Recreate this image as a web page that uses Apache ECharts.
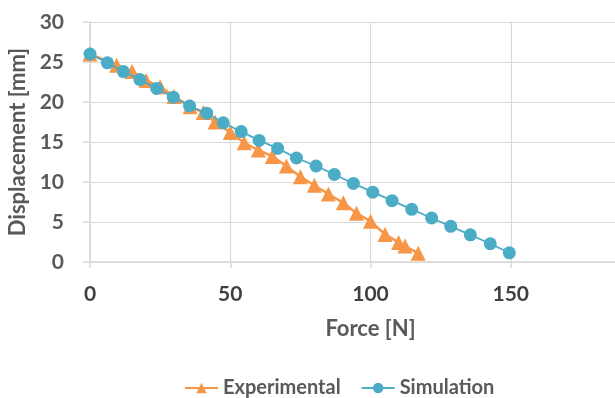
<!DOCTYPE html>
<html>
<head>
<meta charset="utf-8">
<script src="https://cdn.jsdelivr.net/npm/echarts@6/dist/echarts.min.js"></script>
<style>
  html, body { margin: 0; padding: 0; background: #fff; }
  #chart { width: 615px; height: 398px; }
</style>
</head>
<body>
<div id="chart"></div>
<script>
// Experimental: force [N] vs displacement [mm]
const expForce = [0, 9.5, 15, 20, 25, 30, 35.7, 40.4, 44.6, 50, 55, 60, 65, 70, 75, 80, 85, 90.3, 95, 100, 105.2, 110, 112.3, 117];
const expDisp = [26, 24.6, 23.8, 22.7, 21.9, 20.7, 19.4, 18.7, 17.5, 16.2, 14.9, 14.0, 13.2, 12.0, 10.65, 9.6, 8.5, 7.4, 6.1, 5.1, 3.45, 2.45, 2.0, 1.1];

// Simulation
const simForce = [0, 6.2, 11.9, 17.8, 23.8, 29.7, 35.5, 41.6, 47.5, 53.9, 60.3, 66.9, 73.6, 80.6, 87.1, 93.9, 100.8, 107.7, 114.7, 121.8, 128.6, 135.6, 142.7, 149.5];
const simDisp = [26, 24.9, 23.8, 22.8, 21.7, 20.6, 19.5, 18.6, 17.4, 16.3, 15.2, 14.2, 13.0, 12.0, 10.95, 9.82, 8.73, 7.67, 6.58, 5.5, 4.46, 3.4, 2.28, 1.15];

const chart = echarts.init(document.getElementById("chart"));
const font = "Lato, 'Open Sans', sans-serif";
const grey = "#595959";
const gridColor = "#D9D9D9";

chart.setOption({
  animation: false,
  textStyle: { fontFamily: font },
  grid: {
    left: 90,
    right: -36,
    top: 22,
    bottom: 136,
    containLabel: false,
    outerBoundsMode: "none",
  },
  legend: {
    top: 373,
    left: 179,
    itemWidth: 33,
    itemHeight: 13,
    itemGap: 20,
    textStyle: { color: grey, fontSize: 20, fontWeight: "bold", fontFamily: font },
    data: ["Experimental", "Simulation"],
  },
  xAxis: {
    type: "value",
    min: 0,
    max: 200,
    interval: 50,
    name: "Force [N]",
    nameLocation: "middle",
    nameGap: 56,
    nameTextStyle: { color: grey, fontSize: 22, fontWeight: "bold" },
    axisLine: { show: true, lineStyle: { color: gridColor, width: 1.5 } },
    axisTick: { show: true, length: 6, lineStyle: { color: gridColor, width: 1.5 } },
    axisLabel: { color: "#404040", fontSize: 21, fontWeight: "bold", margin: 22 },
    splitLine: { show: true, lineStyle: { color: gridColor, width: 1.2 } },
  },
  yAxis: {
    type: "value",
    min: 0,
    max: 30,
    interval: 5,
    name: "Displacement [mm]",
    nameLocation: "middle",
    nameGap: 50,
    nameRotate: 90,
    nameTextStyle: { color: grey, fontSize: 22, fontWeight: "bold" },
    axisLine: { show: true, lineStyle: { color: gridColor, width: 1.5 } },
    axisTick: { show: true, length: 7, lineStyle: { color: gridColor, width: 1.5 } },
    axisLabel: { color: grey, fontSize: 21, fontWeight: "bold", margin: 26 },
    splitLine: { show: true, lineStyle: { color: gridColor, width: 1.2 } },
  },
  series: [
    {
      name: "Experimental",
      type: "line",
      data: expForce.map((f, i) => [f, expDisp[i]]),
      symbol: "triangle",
      symbolSize: 15,
      itemStyle: { color: "#F79646" },
      lineStyle: { color: "#F79646", width: 2.5 },
      z: 2,
    },
    {
      name: "Simulation",
      type: "line",
      data: simForce.map((f, i) => [f, simDisp[i]]),
      symbol: "circle",
      symbolSize: 13,
      itemStyle: { color: "#4BACC6" },
      lineStyle: { color: "#4BACC6", width: 1.8 },
      z: 3,
    },
  ],
});
</script>
</body>
</html>
